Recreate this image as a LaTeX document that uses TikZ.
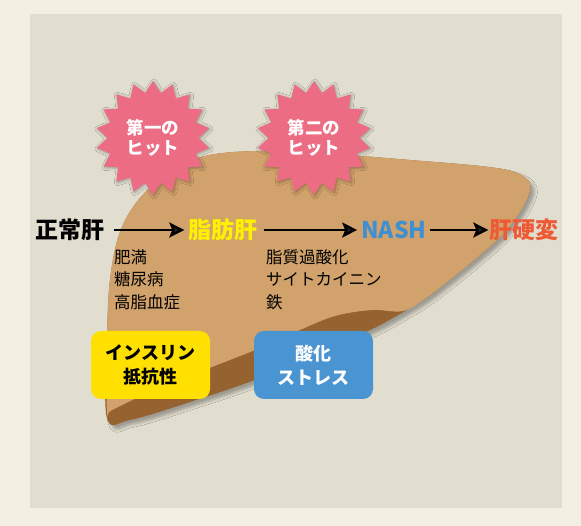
\documentclass[tikz,border=0pt]{standalone}
\usepackage{fontspec}
\setmainfont{Noto Sans CJK JP}
\usepackage{tikz}
\usetikzlibrary{arrows.meta}
\usetikzlibrary{shadows.blur}
\usetikzlibrary{shapes.geometric}

\definecolor{cream}{RGB}{244,239,227}
\definecolor{panel}{RGB}{225,222,208}
\definecolor{livertan}{RGB}{209,162,107}
\definecolor{liverdark}{RGB}{150,98,47}
\definecolor{hitpink}{RGB}{236,108,132}
\definecolor{fatyellow}{RGB}{255,240,0}
\definecolor{nashblue}{RGB}{63,143,209}
\definecolor{cirrhred}{RGB}{238,90,53}
\definecolor{boxyellow}{RGB}{255,224,0}
\definecolor{boxblue}{RGB}{74,148,210}

\tikzset{
  stage/.style={inner sep=0pt, font=\bfseries\fontsize{23}{23}\selectfont},
  cause/.style={inner sep=0pt, align=left, font=\fontsize{16.5}{22.5}\selectfont},
  hit/.style={star, star points=18, star point ratio=1.25, minimum size=114pt,
    inner sep=0pt, fill=hitpink, text=white, align=center,
    font=\bfseries\fontsize{17.5}{20}\selectfont,
    blur shadow={shadow xshift=1pt, shadow yshift=-1pt, shadow opacity=35, shadow blur radius=3pt}},
  factor/.style={rounded corners=10pt, minimum width=119pt, minimum height=68pt,
    inner sep=0pt, align=center, font=\bfseries\fontsize{18}{24}\selectfont},
  stagearrow/.style={line width=2.5pt, -{Stealth[length=15pt,width=15pt,inset=3pt]}},
}

\begin{document}
\begin{tikzpicture}[x=1pt,y=1pt,yscale=-1,xscale=1]
  \useasboundingbox (0,0) rectangle (581,526);
  \fill[cream] (0,0) rectangle (581,526);
  \fill[panel] (30,14) rectangle (562,508);

  % liver: dark underside first, then the upper lobe over it
  \fill[liverdark, blur shadow={shadow xshift=4pt, shadow yshift=-4pt, shadow opacity=30, shadow blur radius=3pt}]
    plot[smooth cycle, tension=0.6] coordinates {(107,418) (107,340) (110,280) (120,232) (140,198) (170,172) (205,156) (260,151) (333,154) (410,160) (480,166) (514,172) (530,184) (524,205) (505,232) (480,255) (452,278) (426,298) (400,314) (370,330) (318,352) (260,378) (190,402) (130,420)};
  \fill[livertan]
    plot[smooth cycle, tension=0.6] coordinates {(107,412) (107,340) (110,280) (120,232) (140,198) (170,172) (205,156) (260,151) (333,154) (410,160) (480,166) (514,172) (530,184) (524,205) (505,232) (480,255) (452,278) (426,298) (403,311) (372,310) (335,316) (300,330) (260,348) (207,369) (150,392) (112,410)};

  % the two hits
  \node[hit] (hit1) at (153,138) {第一の\\ヒット};
  \node[hit] (hit2) at (314,138) {第二の\\ヒット};

  % stages
  \node[stage] (normal) at (70,230) {正常肝};
  \node[stage, text=fatyellow] (fatty) at (223,230) {脂肪肝};
  \node[stage, text=nashblue] (nash) at (394,230) {NASH};
  \node[stage, text=cirrhred] (cirrh) at (524,230) {肝硬変};

  \draw[stagearrow, shorten <=9pt, shorten >=4pt] (normal.east) -- (fatty.west);
  \draw[stagearrow, shorten <=6pt, shorten >=4pt] (fatty.east) -- (nash.west);
  \draw[stagearrow, shorten <=3pt, shorten >=1pt] (nash.east) -- (cirrh.west);

  \node[cause] (cause1) at (114,249) [anchor=north west] {肥満\\糖尿病\\高脂血症};
  \node[cause] (cause2) at (266,249) [anchor=north west] {脂質過酸化\\サイトカイニン\\鉄};

  \node[factor, fill=boxyellow] (insulin) at (150.5,365) {インスリン\\抵抗性};
  \node[factor, fill=boxblue, text=white] (oxid) at (313.5,365) {酸化\\ストレス};
\end{tikzpicture}
\end{document}
